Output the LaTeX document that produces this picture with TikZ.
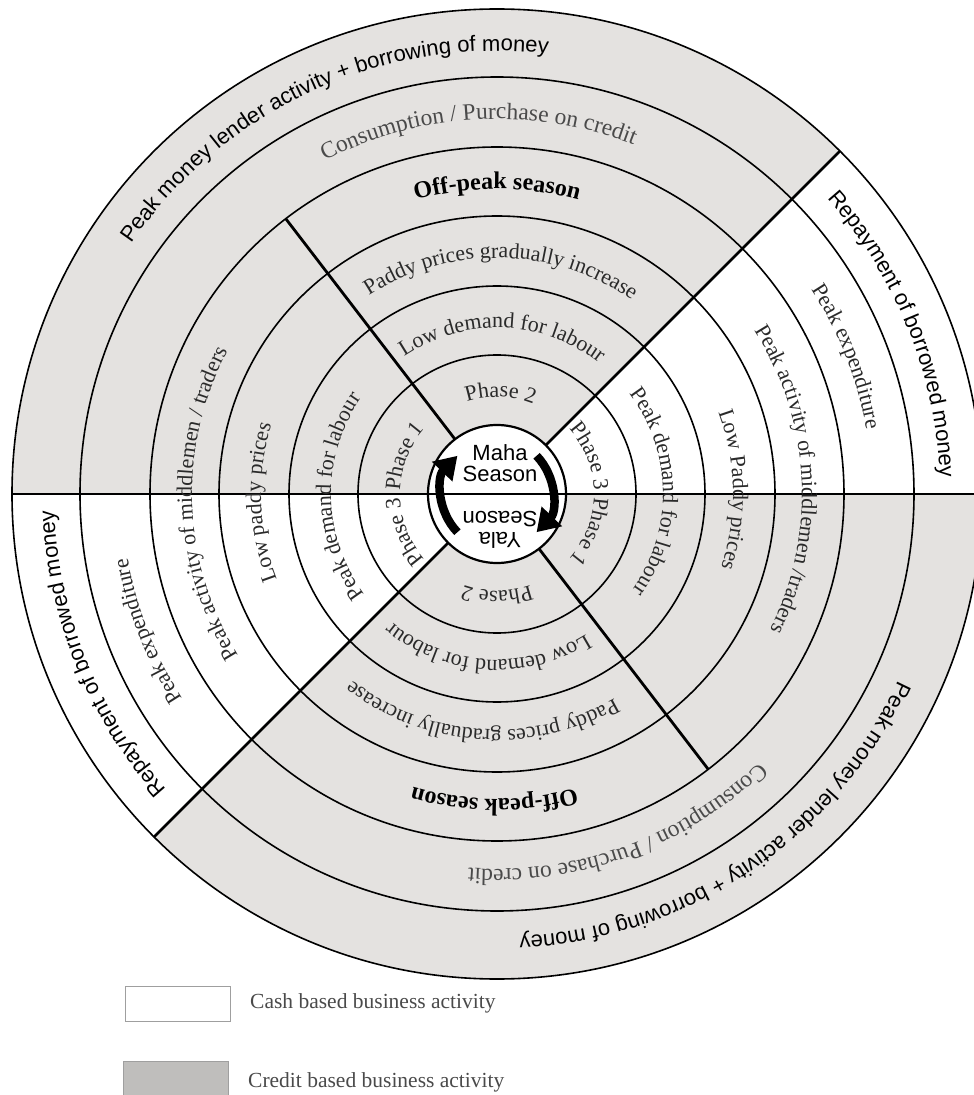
\documentclass[tikz,border=0pt]{standalone}
\usepackage{fontspec}
\setmainfont{Liberation Serif}
\newfontfamily\sansA{Liberation Sans}
\usetikzlibrary{decorations.text,arrows.meta}
\definecolor{credit}{HTML}{E4E2E0}
\definecolor{legendgray}{HTML}{BFBEBC}
\definecolor{txt}{HTML}{2A2A2A}
\definecolor{lighttxt}{HTML}{4A4A4A}
\newcommand{\txR}{\fontsize{22}{26}\selectfont\color{txt}}
\newcommand{\txC}{\fontsize{23.5}{26}\selectfont\color{lighttxt}}
\newcommand{\txB}{\fontsize{24}{26}\selectfont\bfseries\color{black}}
\newcommand{\txS}{\sansA\fontsize{22}{25}\selectfont\color{black}}
% font, text, centre angle, half span, baseline radius
\newcommand{\arcl}[5]{\path[decorate,decoration={text along path,text={|#1|#2},text align=center}]
  ({#3+#4}:#5pt) arc[start angle={#3+#4},end angle={#3-#4},radius=#5pt];}
\begin{document}
\begin{tikzpicture}[x=1pt,y=1pt,
  ring/.style={line width=1.6pt},
  divider/.style={line width=2.8pt},
  legendlbl/.style={anchor=west,inner sep=0pt,font=\fontsize{21.5}{24}\selectfont,text=lighttxt}]
\useasboundingbox (-497,-601) rectangle (477,494);
\clip (-497,-601) rectangle (477,494);
\fill[white] (-497,-601) rectangle (477,494);
% credit sectors
\fill[credit] (0,0) -- (45:485pt) arc[start angle=45,end angle=180,radius=485pt] -- cycle;
\fill[credit] (0,0) -- (225:485pt) arc[start angle=225,end angle=360,radius=485pt] -- cycle;
% rings
\foreach \r in {139,208,278,347,417,485} \draw[ring] (0,0) circle[radius=\r pt];
% dividers
\draw[divider] (45:69pt) -- (45:485pt);
\draw[divider] (225:69pt) -- (225:485pt);
\draw[divider] (127.5:69pt) -- (127.5:347pt);
\draw[divider] (307.5:69pt) -- (307.5:347pt);
\draw[line width=2.2pt, fill=white] (0,0) circle[radius=69pt];
\draw[divider] (-485,0) -- (485,0);
% ---- top (Maha) ----
\arcl{\txR}{Phase 2}{88}{40}{97}
\arcl{\txR}{Low demand for labour}{88}{70}{166}
\arcl{\txR}{Paddy prices gradually increase}{89}{60}{236}
\arcl{\txB}{Off-peak season}{90}{40}{305}
\arcl{\txC}{Consumption / Purchase on credit}{93}{45}{375}
\arcl{\txS}{Peak money lender activity + borrowing of money}{114.5}{50}{443}
% ---- right ----
\arcl{\txR}{Phase 3}{22}{30}{97}
\arcl{\txR}{Phase 1}{-22}{30}{97}
\arcl{\txR}{Peak demand for labour}{1}{70}{166}
\arcl{\txR}{Low Paddy prices}{1}{50}{236}
\arcl{\txR}{Peak activity of middlemen /traders}{3}{50}{305}
\arcl{\txR}{Peak expenditure}{21.5}{30}{375}
\arcl{\txS}{Repayment of borrowed money}{22}{30}{443}
% ---- left ----
\arcl{\txR}{Phase 1}{158}{30}{97}
\arcl{\txR}{Phase 3}{202}{30}{97}
\arcl{\txR}{Peak demand for labour}{181}{70}{166}
\arcl{\txR}{Low paddy prices}{182}{50}{236}
\arcl{\txR}{Peak activity of middlemen / traders}{182}{50}{305}
\arcl{\txR}{Peak expenditure}{201.5}{30}{375}
\arcl{\txS}{Repayment of borrowed money}{202}{30}{443}
% ---- bottom (Yala) ----
\arcl{\txR}{Phase 2}{270}{40}{97}
\arcl{\txR}{Low demand for labour}{266.5}{70}{166}
\arcl{\txR}{Paddy prices gradually increase}{266}{60}{236}
\arcl{\txB}{Off-peak season}{269.5}{40}{305}
\arcl{\txC}{Consumption / Purchase on credit}{290}{45}{375}
\arcl{\txS}{Peak money lender activity + borrowing of money}{304}{50}{443}
% ---- centre ----
\node[font=\sansA\fontsize{22}{20.5}\selectfont, align=center] (maha) at (3,31) {Maha\\Season};
\node[font=\sansA\fontsize{22}{20.5}\selectfont, align=center, rotate=180] (yala) at (3,-36) {Yala\\Season};
\draw[line width=8.5pt, -{Triangle[width=27pt,length=22pt]}] (224:55pt) arc[start angle=224,end angle=136,radius=55pt];
\draw[line width=8.5pt, -{Triangle[width=27pt,length=22pt]}] (44:55pt) arc[start angle=44,end angle=-44,radius=55pt];
% ---- legend ----
\node[draw=gray!75, line width=0.9pt, minimum width=105pt, minimum height=35pt, inner sep=0pt] (cashbox) at (-319.5,-509.5) {};
\node[draw=gray!75, line width=0.9pt, fill=legendgray, minimum width=105pt, minimum height=40pt, inner sep=0pt] (creditbox) at (-321.5,-587) {};
\node[legendlbl] (cashlbl) at (-247,-509) {Cash based business activity};
\node[legendlbl] (creditlbl) at (-249,-588) {Credit based business activity};
\end{tikzpicture}
\end{document}
